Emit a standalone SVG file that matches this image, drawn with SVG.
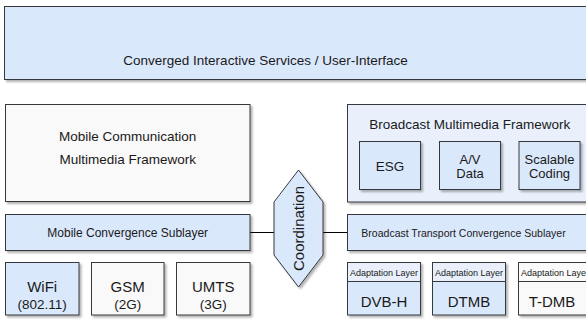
<svg xmlns="http://www.w3.org/2000/svg" width="586" height="326" viewBox="0 0 586 326">
<defs>
<filter id="sh" x="-5%" y="-5%" width="115%" height="120%">
<feDropShadow dx="2" dy="2" stdDeviation="0.8" flood-color="#000" flood-opacity="0.3"/>
</filter>
<style>
.b{fill:#dae8fc;stroke:#36393d;stroke-width:1;filter:url(#sh)}
.lb{fill:#e9f0fc;stroke:#36393d;stroke-width:1;filter:url(#sh)}
.w{fill:#f9f9f9;stroke:#36393d;stroke-width:1;filter:url(#sh)}
.h{fill:#e9f0fc;stroke:#36393d;stroke-width:1}
.hw{fill:#fbfbfb;stroke:#36393d;stroke-width:1}
text{font-family:"Liberation Sans",Arial,Helvetica,sans-serif;fill:#1a1a1a;text-anchor:middle}
.t135{font-size:13.5px}
.t13{font-size:13px}
.t12{font-size:12px}
.t105{font-size:10.5px}
.t15{font-size:15px}
.t9{font-size:9px}
.c{stroke:#000;stroke-width:1;fill:none}
</style>
</defs>

<g id="connectors">
<line class="c" x1="250" y1="232.5" x2="274" y2="232.5"/>
<line class="c" x1="323" y1="232.5" x2="348" y2="232.5"/>
</g>

<g id="ui">
<rect class="b" x="4.5" y="6.5" width="600" height="73"/>
<text class="t135" x="265.5" y="65">Converged Interactive Services / User-Interface</text>
</g>

<g id="mobile-framework">
<rect class="w" x="5.5" y="104.5" width="244.5" height="97"/>
<text class="t135" x="127.7" y="141">Mobile Communication</text>
<text class="t135" x="127.7" y="163.5">Multimedia Framework</text>
</g>

<g id="broadcast-framework">
<rect class="lb" x="347.5" y="104.5" width="250" height="97.5"/>
<text class="t135" x="469.7" y="128.5">Broadcast Multimedia Framework</text>
</g>
<g id="esg">
<rect class="b" x="359.5" y="141.5" width="61" height="48"/>
<text class="t135" x="390" y="171">ESG</text>
</g>
<g id="av-data">
<rect class="b" x="439.5" y="141.5" width="61" height="48"/>
<text class="t13" x="470" y="164">A/V</text>
<text class="t13" x="470" y="178">Data</text>
</g>
<g id="scalable-coding">
<rect class="b" x="519" y="141.5" width="61" height="48"/>
<text class="t13" x="549.5" y="164">Scalable</text>
<text class="t13" x="549.5" y="178">Coding</text>
</g>

<g id="mobile-convergence">
<rect class="b" x="5.5" y="214.5" width="244.5" height="36"/>
<text class="t12" x="127.7" y="237">Mobile Convergence Sublayer</text>
</g>

<g id="coordination">
<polygon class="b" points="298.5,170 323,202 323,255 298.5,287 274,255 274,202"/>
<text class="t15" transform="translate(304,228.5) rotate(-90)" x="0" y="0">Coordination</text>
</g>

<g id="broadcast-convergence">
<rect class="b" x="347.5" y="214.5" width="250" height="36"/>
<text class="t105" x="463.5" y="237">Broadcast Transport Convergence Sublayer</text>
</g>

<g id="wifi">
<rect class="b" x="5.5" y="262.5" width="73.5" height="52.5"/>
<text class="t15" x="42.2" y="292">WiFi</text>
<text class="t135" x="42.2" y="308.5">(802.11)</text>
</g>
<g id="gsm">
<rect class="w" x="91.5" y="262.5" width="72.5" height="52.5"/>
<text class="t15" x="127.7" y="292">GSM</text>
<text class="t135" x="127.7" y="308.5">(2G)</text>
</g>
<g id="umts">
<rect class="w" x="176.5" y="262.5" width="73.5" height="52.5"/>
<text class="t15" x="213.2" y="292">UMTS</text>
<text class="t135" x="213.2" y="308.5">(3G)</text>
</g>

<g id="dvb-h">
<rect class="b" x="347.5" y="262.5" width="73" height="52.5"/>
<rect class="h" x="347.5" y="262.5" width="73" height="19"/>
<text class="t9" x="384" y="275.5">Adaptation Layer</text>
<text class="t15" x="384" y="307">DVB-H</text>
</g>
<g id="dtmb">
<rect class="b" x="432.5" y="262.5" width="73" height="52.5"/>
<rect class="h" x="432.5" y="262.5" width="73" height="19"/>
<text class="t9" x="469" y="275.5">Adaptation Layer</text>
<text class="t15" x="469" y="307">DTMB</text>
</g>
<g id="t-dmb">
<rect class="w" x="518.5" y="262.5" width="73" height="52.5"/>
<rect class="hw" x="518.5" y="262.5" width="73" height="19"/>
<text class="t9" x="555" y="275.5">Adaptation Layer</text>
<text class="t15" x="552" y="307">T-DMB</text>
</g>
</svg>
